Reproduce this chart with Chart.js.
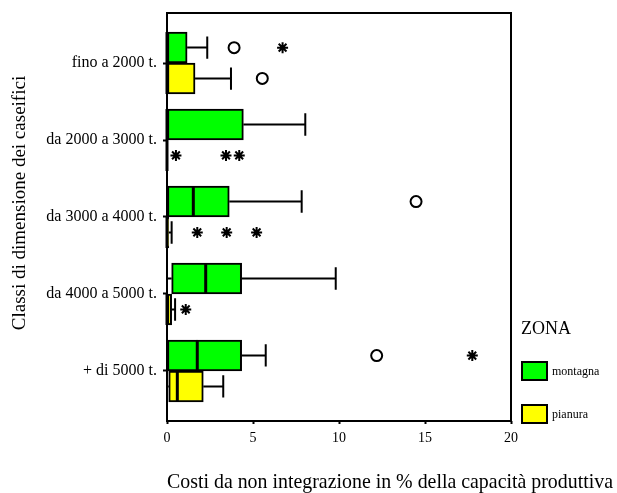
<!DOCTYPE html>
<html>
<head>
<meta charset="utf-8">
<script src="https://cdn.jsdelivr.net/npm/chart.js@4/dist/chart.umd.min.js"></script>
<style>
  html, body { margin: 0; padding: 0; background: #fff; }
  #wrap { width: 617px; height: 493px; }
</style>
</head>
<body>
<div id="wrap"><canvas id="chart" width="617" height="493"></canvas></div>
<script>
const categories = ['fino a 2000 t.', 'da 2000 a 3000 t.', 'da 3000 a 4000 t.', 'da 4000 a 5000 t.', '+ di 5000 t.'];
const zones = ['montagna', 'pianura'];
const zoneColors = ['#00ff00', '#ffff00'];
const xTicks = [0, 5, 10, 15, 20];

// montagna: whiskers, quartiles, median, outliers (O) and extremes (*)
const montLow = [0, 0, 0, 0, 0];
const montQ1 = [0, 0, 0, 0.27, 0];
const montMedian = [0, 0, 1.53, 2.25, 1.76];
const montQ3 = [1.17, 4.44, 3.62, 4.34, 4.34];
const montHigh = [2.34, 8.04, 7.83, 9.81, 5.74];
const montOutliers = [[3.9], [], [14.48], [], [12.19]];
const montExtremes = [[6.72], [], [], [], [17.75]];

// pianura
const pianLow = [0, 0, 0, 0, 0];
const pianQ1 = [0, 0, 0, 0, 0.1];
const pianMedian = [0, 0, 0, 0, 0.6];
const pianQ3 = [1.63, 0, 0.1, 0.27, 2.11];
const pianHigh = [3.72, 0, 0.27, 0.47, 3.27];
const pianOutliers = [[5.54], [], [], [], []];
const pianExtremes = [[], [0.52, 3.43, 4.2], [1.76, 3.47, 5.21], [1.09], []];

const yTitle = 'Classi di dimensione dei caseifici';
const xTitle = 'Costi da non integrazione in % della capacità produttiva';
const legendTitle = 'ZONA';

const FONT = "'Liberation Serif', 'Times New Roman', serif";
const BOX_OFFSET = 0.2; // half a box, in category units (green above, yellow below)

function boxDataset(label, color, low, q1, median, q3, high) {
  return {
    type: 'bar',
    label: label,
    data: q1.map((v, i) => ({ x: [v, q3[i]], y: i + 1 })),
    backgroundColor: color,
    borderColor: '#000',
    borderWidth: 2,
    borderSkipped: false,
    barThickness: 31,
    stats: { low, q1, median, q3, high }
  };
}

function pointDataset(label, lists, shift, style, radius) {
  return {
    type: 'scatter',
    label: label,
    data: lists.flatMap((vals, i) => vals.map(v => ({ x: v, y: i + 1 + shift }))),
    pointStyle: style,
    radius: radius,
    borderWidth: 2,
    borderColor: '#000',
    backgroundColor: '#fff'
  };
}

const boxPlugin = {
  id: 'boxWhiskers',
  afterDatasetsDraw(chart) {
    const ctx = chart.ctx;
    const xs = chart.scales.x;
    const area = chart.chartArea;
    ctx.save();
    ctx.strokeStyle = '#000';
    chart.data.datasets.forEach((ds, di) => {
      if (!ds.stats) return;
      const s = ds.stats;
      chart.getDatasetMeta(di).data.forEach((bar, i) => {
        const y = bar.y, h = bar.height;
        const cap = h * 0.36;
        ctx.lineWidth = 2;
        ctx.beginPath();
        if (s.high[i] > s.q3[i]) {
          const a = xs.getPixelForValue(s.q3[i]), b = xs.getPixelForValue(s.high[i]);
          ctx.moveTo(a, y); ctx.lineTo(b, y);
          ctx.moveTo(b, y - cap); ctx.lineTo(b, y + cap);
        }
        if (s.low[i] < s.q1[i]) {
          const a = xs.getPixelForValue(s.q1[i]), b = xs.getPixelForValue(s.low[i]);
          ctx.moveTo(a, y); ctx.lineTo(b, y);
          ctx.moveTo(b, y - cap); ctx.lineTo(b, y + cap);
        }
        ctx.stroke();
        ctx.lineWidth = 3;
        ctx.beginPath();
        const m = xs.getPixelForValue(s.median[i]);
        ctx.moveTo(m, y - h / 2); ctx.lineTo(m, y + h / 2);
        ctx.stroke();
      });
    });
    // frame
    ctx.lineWidth = 2;
    ctx.strokeRect(area.left, area.top, area.right - area.left, area.bottom - area.top);
    ctx.restore();
  },
  afterDraw(chart) {
    const ctx = chart.ctx;
    const area = chart.chartArea;
    ctx.save();
    ctx.fillStyle = '#000';
    // x axis title, left aligned with the plot and running past it
    ctx.font = '22px ' + FONT;
    ctx.textAlign = 'left';
    ctx.textBaseline = 'alphabetic';
    ctx.fillText(xTitle, area.left, 488, 446);
    // y axis title
    ctx.translate(20, 203);
    ctx.rotate(-Math.PI / 2);
    ctx.font = '19px ' + FONT;
    ctx.textAlign = 'center';
    ctx.textBaseline = 'middle';
    ctx.fillText(yTitle, 0, 0);
    ctx.restore();

    // legend
    ctx.save();
    const lx = area.right + 10;
    ctx.fillStyle = '#000';
    ctx.font = '18px ' + FONT;
    ctx.textBaseline = 'middle';
    ctx.fillText(legendTitle, lx, 329);
    ctx.font = '12px ' + FONT;
    zones.forEach((z, k) => {
      const top = 362 + k * 43;
      ctx.fillStyle = zoneColors[k];
      ctx.fillRect(lx + 1, top, 25, 18);
      ctx.lineWidth = 2;
      ctx.strokeStyle = '#000';
      ctx.strokeRect(lx + 1, top, 25, 18);
      ctx.fillStyle = '#000';
      ctx.fillText(z, lx + 31, top + 10);
    });
    ctx.restore();
  }
};

new Chart(document.getElementById('chart'), {
  type: 'bar',
  data: {
    datasets: [
      boxDataset(zones[0], zoneColors[0], montLow, montQ1, montMedian, montQ3, montHigh),
      boxDataset(zones[1], zoneColors[1], pianLow, pianQ1, pianMedian, pianQ3, pianHigh),
      pointDataset('montagna outliers', montOutliers, -BOX_OFFSET, 'circle', 5.5),
      pointDataset('montagna extremes', montExtremes, -BOX_OFFSET, 'star', 5.5),
      pointDataset('pianura outliers', pianOutliers, BOX_OFFSET, 'circle', 5.5),
      pointDataset('pianura extremes', pianExtremes, BOX_OFFSET, 'star', 5.5)
    ]
  },
  options: {
    indexAxis: 'y',
    responsive: false,
    animation: false,
    devicePixelRatio: 1,
    layout: { padding: { left: 0, right: 106, top: 13, bottom: 0 } },
    plugins: { legend: { display: false }, tooltip: { enabled: false } },
    scales: {
      x: {
        type: 'linear',
        min: xTicks[0],
        max: xTicks[xTicks.length - 1],
        afterBuildTicks: s => { s.ticks = xTicks.map(v => ({ value: v })); },
        ticks: { font: { family: FONT, size: 14 }, color: '#000', padding: 6, maxRotation: 0 },
        grid: { drawOnChartArea: false, tickLength: 3, tickWidth: 2, color: '#000' },
        border: { display: false },
        afterFit: s => { s.height = 72; }
      },
      y: {
        type: 'linear',
        reverse: true,
        offset: false,
        min: 0.35,
        max: 5.65,
        afterBuildTicks: s => { s.ticks = categories.map((c, i) => ({ value: i + 1 })); },
        ticks: {
          font: { family: FONT, size: 16 },
          color: '#000',
          padding: 6,
          callback: v => categories[v - 1] || ''
        },
        grid: { offset: false, drawOnChartArea: false, tickLength: 4, tickWidth: 2, color: '#000' },
        border: { display: false },
        afterFit: s => { s.width = 167; s.paddingTop = 0; s.paddingBottom = 0; }
      }
    }
  },
  plugins: [boxPlugin]
});
</script>
</body>
</html>
